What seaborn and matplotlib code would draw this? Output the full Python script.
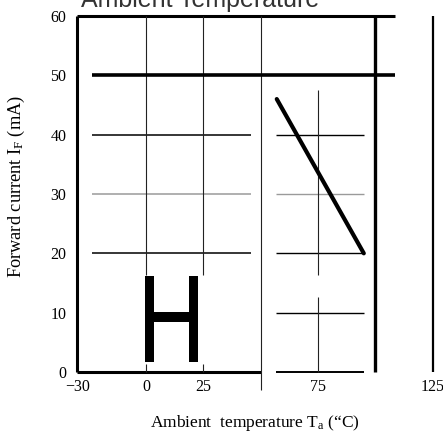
import matplotlib
matplotlib.use("Agg")
import matplotlib.pyplot as plt
import seaborn as sns
from matplotlib.patheffects import AbstractPathEffect
from matplotlib.transforms import Affine2D

# Axis ticks
temp_ticks = [-30, 0, 25, 75, 125]
temp_labels = ["\u221230", "0", "25", "75", "125"]
current_ticks = [0, 10, 20, 30, 40, 50, 60]

# Derating of the forward current above the knee temperature
derate_temp = [57, 95]
derate_current = [46, 20]

# Maximum forward current
rated_current = 50
rated_span = (-23.7, 108.6)

# Guide lines (value, start, end)
h_guides_left = [(40, -23.7, 45.8), (30, -23.7, 45.8), (20, -23.7, 45.8)]
h_guides_right = [(40, 56.7, 95.1), (30, 56.7, 95.1), (20, 56.7, 95.1),
                  (10, 56.7, 95.1), (0, 56.7, 95.1)]
v_guides = [(0, 16.4, 60), (25, 16.4, 60), (0, 0, 1.3), (25, 0, 1.3),
            (50, -3, 60), (75, 16.4, 47.5), (75, 0, 12.6)]


class Squeeze(AbstractPathEffect):
    """Narrow a glyph horizontally about a fixed display x position."""

    def __init__(self, sx, cx):
        super().__init__()
        self.sx = sx
        self.cx = cx

    def draw_path(self, renderer, gc, tpath, affine, rgbFace=None):
        t = affine + Affine2D().translate(-self.cx, 0).scale(self.sx, 1).translate(self.cx, 0)
        renderer.draw_path(gc, tpath, t, rgbFace)


sns.set_theme(style="white")
plt.rcParams["font.family"] = ["Liberation Serif", "DejaVu Serif"]
plt.rcParams["mathtext.fontset"] = "custom"
plt.rcParams["mathtext.rm"] = "Liberation Serif"
plt.rcParams["mathtext.it"] = "Liberation Serif:italic"

fig = plt.figure(figsize=(4.43, 4.32), dpi=100)
ax = fig.add_axes([77.5 / 443, 60 / 432, 355 / 443, 356 / 432])
ax.set_xlim(-30, 125)
ax.set_ylim(0, 60)
for s in ax.spines.values():
    s.set_visible(False)
ax.grid(False)

# Frame pieces
ax.vlines(-30, 0, 60, color="black", lw=2.2, clip_on=False)
ax.hlines(0, -30, 50, color="black", lw=2.2, clip_on=False)
ax.hlines(60, -30, rated_span[1], color="black", lw=2.2, clip_on=False)
ax.vlines(100, 0, 60, color="black", lw=2.4, clip_on=False)
ax.vlines(125, 0, 60, color="black", lw=1.6, clip_on=False)

# Guide lines
for val, a, b in h_guides_left:
    ax.hlines(val, a, b, color="#9a9a9a" if val == 30 else "black", lw=1.1, clip_on=False)
for val, a, b in h_guides_right:
    col = "#9a9a9a" if val == 30 else "black"
    ax.hlines(val, a, b, color=col, lw=1.4 if val == 0 else 1.0, clip_on=False)
for val, a, b in v_guides:
    ax.vlines(val, a, b, color="#222222", lw=0.8, clip_on=False)

# Rated current
ax.hlines(rated_current, rated_span[0], rated_span[1], color="black", lw=2.6, clip_on=False)

# Derating curve
sns.lineplot(x=derate_temp, y=derate_current, color="black", lw=3.0, ax=ax, legend=False)

h_x, h_y = 11.05, 1.69
h_cx = ax.transData.transform((h_x, h_y))[0]
ax.text(h_x, h_y, "H", fontsize=90, family=["Liberation Sans", "DejaVu Sans"],
        ha="center", va="baseline", color="black",
        path_effects=[Squeeze(0.76, h_cx)])

ax.set_xticks(temp_ticks)
ax.set_xticklabels(temp_labels)
ax.set_yticks(current_ticks)
ax.tick_params(axis="both", length=0, labelsize=11.5, colors="black")
ax.tick_params(axis="x", pad=5)
ax.tick_params(axis="y", pad=8)
ax.get_xticklabels()[-1].set_horizontalalignment("center")

fig.text(255 / 443, 1 - 427 / 432, "Ambient  temperature $\\mathrm{T_a}$ (\u201cC)",
         ha="center", va="baseline", fontsize=12.5, color="black")
fig.text(16 / 443, 1 - 186 / 432, "Forward current $\\mathrm{I_F}$ (mA)",
         ha="center", va="center", rotation=90, fontsize=13.2, color="black")
fig.text(200 / 443, 1 - 7.5 / 432, "Ambient Temperature", ha="center", va="baseline",
         fontsize=18, family=["Liberation Sans", "DejaVu Sans"], color="#333333")

fig.savefig("out.png", dpi=100, facecolor="white")
